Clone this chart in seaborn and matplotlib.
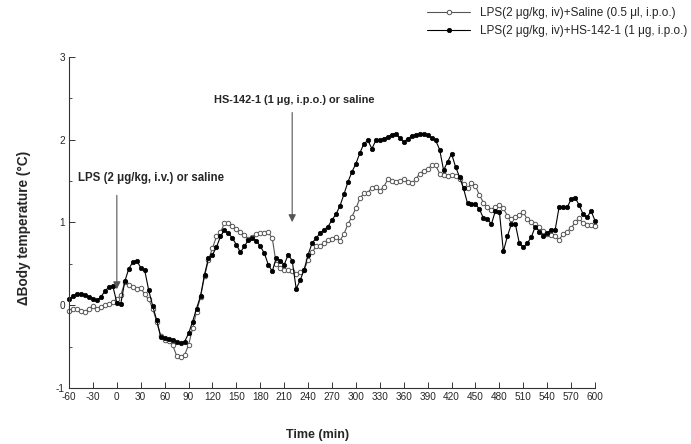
import numpy as np
import pandas as pd
import matplotlib
matplotlib.use("Agg")
import matplotlib.pyplot as plt
from matplotlib.ticker import MultipleLocator
import seaborn as sns

# time grid (min) and body temperature change (deg C)
time_min = np.arange(-60, 605, 5)
saline = [
    -0.07, -0.04, -0.04, -0.07, -0.08, -0.04, -0.01, -0.04, -0.02, 0.00,
    0.01, 0.04, 0.07, 0.12, 0.28, 0.24, 0.22, 0.20, 0.21, 0.13,
    0.07, -0.04, -0.20, -0.37, -0.42, -0.43, -0.48, -0.61, -0.62, -0.60,
    -0.48, -0.28, -0.08, 0.10, 0.35, 0.55, 0.69, 0.83, 0.88, 0.99,
    0.99, 0.96, 0.92, 0.88, 0.85, 0.80, 0.82, 0.86, 0.87, 0.87,
    0.88, 0.81, 0.50, 0.45, 0.43, 0.43, 0.41, 0.38, 0.40, 0.43,
    0.55, 0.64, 0.71, 0.72, 0.75, 0.79, 0.80, 0.82, 0.78, 0.86,
    0.98, 1.07, 1.17, 1.29, 1.35, 1.36, 1.42, 1.43, 1.38, 1.43,
    1.52, 1.50, 1.49, 1.50, 1.52, 1.49, 1.47, 1.52, 1.59, 1.62,
    1.64, 1.69, 1.69, 1.59, 1.57, 1.56, 1.57, 1.56, 1.53, 1.46,
    1.41, 1.48, 1.44, 1.33, 1.24, 1.18, 1.15, 1.18, 1.21, 1.17,
    1.08, 1.04, 1.07, 1.09, 1.12, 1.04, 1.00, 0.98, 0.94, 0.90,
    0.86, 0.85, 0.84, 0.79, 0.86, 0.89, 0.93, 1.00, 1.05, 0.99,
    0.97, 0.97, 0.96,
]
hs142 = [
    0.07, 0.11, 0.14, 0.13, 0.12, 0.10, 0.08, 0.06, 0.10, 0.17,
    0.22, 0.23, 0.03, 0.02, 0.29, 0.44, 0.52, 0.54, 0.45, 0.42,
    0.18, -0.01, -0.18, -0.38, -0.40, -0.41, -0.42, -0.44, -0.46, -0.44,
    -0.34, -0.20, -0.04, 0.11, 0.37, 0.57, 0.61, 0.70, 0.83, 0.91,
    0.87, 0.81, 0.73, 0.64, 0.71, 0.79, 0.81, 0.78, 0.71, 0.63,
    0.49, 0.41, 0.57, 0.54, 0.49, 0.61, 0.54, 0.20, 0.30, 0.43,
    0.61, 0.75, 0.81, 0.87, 0.91, 0.95, 1.03, 1.10, 1.20, 1.34,
    1.49, 1.61, 1.71, 1.84, 1.95, 1.99, 1.89, 1.99, 2.00, 2.01,
    2.03, 2.06, 2.07, 2.02, 1.97, 2.01, 2.04, 2.06, 2.07, 2.07,
    2.05, 2.02, 1.99, 1.88, 1.63, 1.73, 1.83, 1.67, 1.55, 1.41,
    1.23, 1.22, 1.22, 1.16, 1.05, 1.04, 0.98, 1.14, 1.13, 0.65,
    0.83, 0.98, 0.98, 0.75, 0.70, 0.75, 0.82, 0.95, 0.89, 0.84,
    0.87, 0.91, 0.91, 1.19, 1.18, 1.18, 1.28, 1.30, 1.21, 1.10,
    1.06, 1.14, 1.02,
]
labels = ["LPS(2 μg/kg, iv)+Saline (0.5 μl, i.p.o.)",
          "LPS(2 μg/kg, iv)+HS-142-1 (1 μg, i.p.o.)"]
x_ticks = np.arange(-60, 601, 30)
y_ticks = [-1, 0, 1, 2, 3]

df = pd.DataFrame({"time": time_min, "saline": saline, "hs": hs142})

sns.set_style("ticks")
plt.rcParams["font.family"] = ["Liberation Sans", "DejaVu Sans"]
plt.rcParams["axes.unicode_minus"] = False

fig = plt.figure(figsize=(6.91, 4.44), dpi=100)
ax = fig.add_axes([0.0999, 0.126, 0.7612, 0.7462])

sns.lineplot(data=df, x="time", y="saline", ax=ax, color="#555555", lw=0.8,
             marker="o", markersize=3.2, markerfacecolor="white",
             markeredgecolor="#555555", markeredgewidth=0.7,
             label=labels[0], clip_on=False)
sns.lineplot(data=df, x="time", y="hs", ax=ax, color="black", lw=0.8,
             marker="o", markersize=3.2, markerfacecolor="black",
             markeredgecolor="black", markeredgewidth=0.5,
             label=labels[1], clip_on=False)

ax.set_xlim(-60, 600)
ax.set_ylim(-1, 3)
ax.set_xticks(x_ticks)
ax.set_yticks(y_ticks)
ax.yaxis.set_minor_locator(MultipleLocator(0.5))
ax.tick_params(axis="both", which="major", direction="in", length=4,
               width=0.7, labelsize=7.2, color="#333333", pad=3)
ax.tick_params(axis="y", which="minor", direction="in", length=2.5,
               width=0.6, color="#333333")
for side in ["top", "right"]:
    ax.spines[side].set_visible(False)
for side in ["left", "bottom"]:
    ax.spines[side].set_linewidth(0.8)
    ax.spines[side].set_color("#333333")

ax.set_xlabel("Time (min)", fontsize=9, fontweight="bold")
ax.xaxis.set_label_coords(0.473, -0.125)
ax.set_ylabel("ΔBody temperature (°C)", fontsize=9.8, fontweight="bold")
ax.yaxis.set_label_coords(-0.073, 0.483)

# injection arrows
arrow = dict(arrowstyle="-|>", color="#555555", lw=0.8, mutation_scale=11)
ax.annotate("", xy=(0, 0.16), xytext=(0, 1.36), arrowprops=arrow)
ax.text(-49, 1.54, "LPS (2 μg/kg, i.v.) or saline", fontsize=8.3,
        fontweight="bold", ha="left", va="center")
ax.annotate("", xy=(220, 0.97), xytext=(220, 2.36), arrowprops=arrow)
ax.text(223, 2.48, "HS-142-1 (1 μg, i.p.o.) or saline", fontsize=7.9,
        fontweight="bold", ha="center", va="center")

leg = ax.legend(loc="upper right", bbox_to_anchor=(0.998, 0.99),
                bbox_transform=fig.transFigure, frameon=False, fontsize=8.5,
                handlelength=3.6, handletextpad=0.85, labelspacing=0.5,
                numpoints=1, borderaxespad=0, borderpad=0.2)

fig.savefig("out.png", dpi=100)
